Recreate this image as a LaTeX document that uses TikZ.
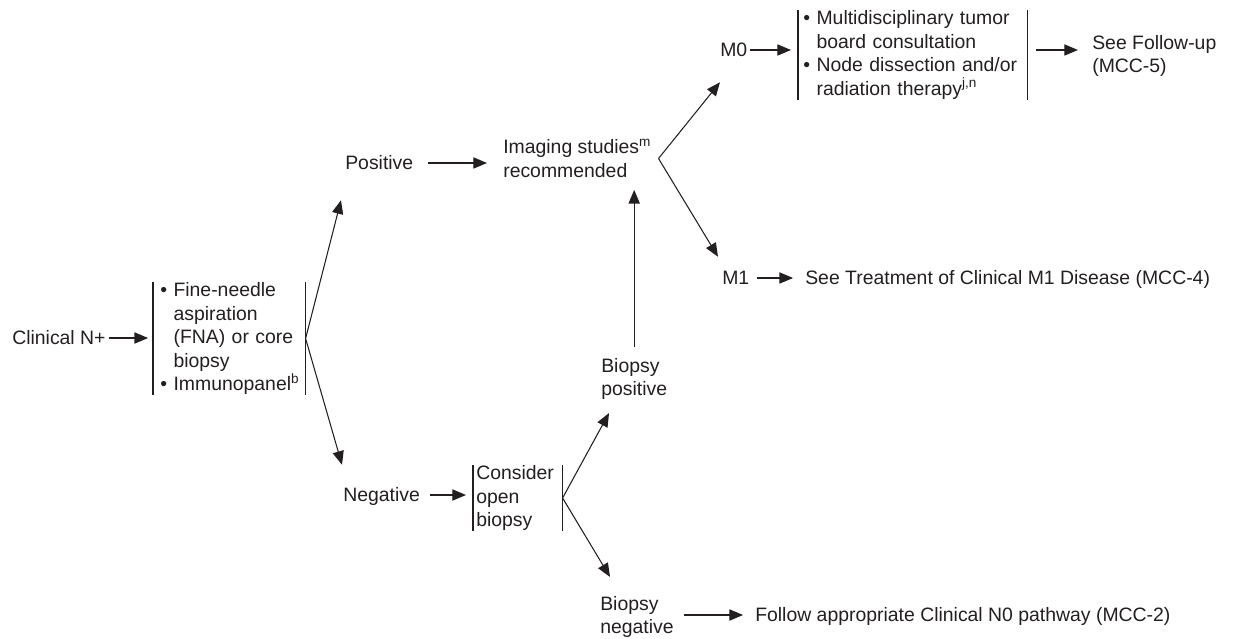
\documentclass[tikz,border=0pt]{standalone}
\usepackage{fontspec}
\setmainfont{Liberation Sans}
\usetikzlibrary{arrows.meta}
\definecolor{ink}{HTML}{231F20}

\begin{document}
\begin{tikzpicture}[x=0.025cm,y=-0.025cm,>={Triangle[length=3.4mm,width=2.8mm]},
  every node/.style={font=\fontsize{13.8}{16.7}\selectfont,text=ink},
  lbl/.style={inner sep=0pt,text height=9.9pt,text depth=0pt,anchor=west},
  txt/.style={inner sep=0pt,align=left,anchor=west},
  brk/.style={inner ysep=0pt,align=left,anchor=west},
  link/.style={draw=ink,line width=0.75pt},
  arr/.style={link,->}]
  \useasboundingbox (0,0) rectangle (1234,638);
  % left part
  \node[lbl] (clin) at (12,338) {Clinical N+};
  \node[brk,text width=3.45cm,inner xsep=0.175cm] (fna) at (153,338.5)
    {\textbullet~Fine-needle\\\hphantom{\textbullet~}aspiration\\\hphantom{\textbullet~}(FNA) or core\\\hphantom{\textbullet~}biopsy\\\textbullet~Immunopanel\textsuperscript{b}};
  \node[lbl] (pos) at (345,163) {Positive};
  \node[lbl] (neg) at (343,495) {Negative};
  \node[brk,text width=2.075cm,inner xsep=0.075cm] (cob) at (473,498) {Consider\\open\\biopsy};
  % middle part
  \node[txt] (img) at (503,158.5) {Imaging studies\textsuperscript{m}\\recommended};
  \node[txt] (bpos) at (601,379) {Biopsy\\positive};
  \node[txt] (bneg) at (600,617) {Biopsy\\negative};
  % right part
  \node[lbl] (m0) at (720,50) {M0};
  \node[brk,text width=5.475cm,inner xsep=0.125cm] (m0b) at (798,55)
    {\textbullet~Multidisciplinary tumor\\\hphantom{\textbullet~}board consultation\\\textbullet~Node dissection and/or\\\hphantom{\textbullet~}radiation therapy\textsuperscript{j,n}};
  \node[txt] (fol) at (1092,56) {See Follow-up\\(MCC-5)};
  \node[lbl] (m1) at (722,278) {M1};
  \node[lbl] (m1t) at (805,278) {See Treatment of Clinical M1 Disease (MCC-4)};
  \node[lbl] (n0t) at (755,615) {Follow appropriate Clinical N0 pathway (MCC-2)};
  \coordinate (imgfork) at ([xshift=5pt]img.east);
  % brackets
  \draw[link] (fna.north west) -- (fna.south west) (fna.north east) -- (fna.south east);
  \draw[link] (cob.north west) -- (cob.south west) (cob.north east) -- (cob.south east);
  \draw[link] (m0b.north west) -- (m0b.south west) (m0b.north east) -- (m0b.south east);
  % straight arrows
  \draw[arr,shorten <=2pt,shorten >=3.5pt] (clin.east) -- (clin.east -| fna.west);
  \draw[arr,shorten <=10pt,shorten >=11.4pt] (pos.east) -- (pos.east -| img.west);
  \draw[arr,shorten <=7pt,shorten >=5pt] (neg.east) -- (neg.east -| cob.west);
  \draw[arr,shorten <=2pt,shorten >=5pt] (m0.east) -- (m0.east -| m0b.west);
  \draw[arr,shorten <=5.7pt,shorten >=10pt] (m0.east -| m0b.east) -- (m0.east -| fol.west);
  \draw[arr,shorten <=5pt,shorten >=8.5pt] (m1.east) -- (m1t.west);
  \draw[arr,shorten <=7pt,shorten >=8.5pt] (n0t.west -| bneg.east) -- (n0t.west);
  \draw[arr,shorten <=7.8pt,shorten >=8.5pt] (bpos.north) -- (bpos.north |- img.south);
  % forks
  \draw[arr] (fna.east) -- ([shift={(-4,30)}]pos.south west);
  \draw[arr] (fna.east) -- ([shift={(-1,-23)}]neg.north west);
  \draw[arr] (imgfork) -- ([shift={(0,25)}]m0.south west);
  \draw[arr] (imgfork) -- ([shift={(-4,-14)}]m1.north west);
  \draw[arr] (cob.east) -- ([shift={(8,13)}]bpos.south west);
  \draw[arr] (cob.east) -- ([shift={(10,-19)}]bneg.north west);
\end{tikzpicture}
\end{document}
